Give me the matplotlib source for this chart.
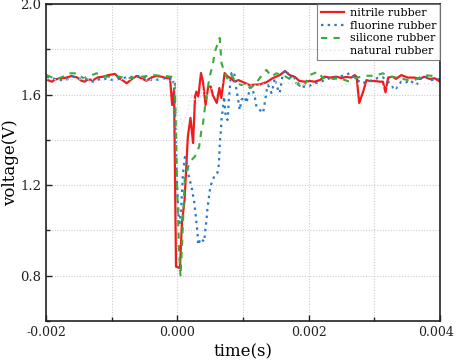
import matplotlib
matplotlib.use("Agg")
import matplotlib.pyplot as plt
from matplotlib.ticker import MultipleLocator
from matplotlib.transforms import ScaledTranslation

plt.rcParams['font.family'] = ['DejaVu Serif']

# ---- data (time in s, voltage in V) ----
nitrile_t = [-0.00200, -0.00191, -0.00186, -0.00176, -0.00169, -0.00161, -0.00153, -0.00146,
             -0.00141, -0.00136, -0.00128, -0.00121, -0.00113, -0.00105, -0.00095, -0.00088,
             -0.00077, -0.00070, -0.00062, -0.00055, -0.00047, -0.00039, -0.00032, -0.00024,
             -0.00016, -0.00011, -0.00008, -0.00005, -0.00002, 0.00004, 0.00007, 0.00011,
             0.00016, 0.00020, 0.00024, 0.00027, 0.00029, 0.00032, 0.00036, 0.00039,
             0.00043, 0.00047, 0.00051, 0.00054, 0.00060, 0.00064, 0.00067, 0.00072,
             0.00077, 0.00082, 0.00087, 0.00093, 0.00110, 0.00126, 0.00136, 0.00145,
             0.00156, 0.00164, 0.00171, 0.00179, 0.00186, 0.00194, 0.00202, 0.00209,
             0.00217, 0.00224, 0.00232, 0.00242, 0.00250, 0.00257, 0.00265, 0.00270,
             0.00273, 0.00277, 0.00283, 0.00288, 0.00293, 0.00300, 0.00308, 0.00313,
             0.00317, 0.00321, 0.00328, 0.00333, 0.00341, 0.00351, 0.00361, 0.00369,
             0.00376, 0.00384, 0.00392, 0.00400]
nitrile_v = [1.667, 1.657, 1.667, 1.672, 1.675, 1.682, 1.676, 1.661,
             1.657, 1.667, 1.664, 1.676, 1.679, 1.686, 1.691, 1.672,
             1.650, 1.667, 1.682, 1.672, 1.661, 1.676, 1.682, 1.679,
             1.672, 1.672, 1.554, 1.620, 0.840, 0.834, 1.033, 1.134,
             1.414, 1.497, 1.386, 1.591, 1.613, 1.591, 1.695, 1.657,
             1.554, 1.635, 1.635, 1.598, 1.563, 1.629, 1.585, 1.695,
             1.679, 1.672, 1.657, 1.664, 1.642, 1.645, 1.655, 1.672,
             1.686, 1.704, 1.686, 1.678, 1.660, 1.657, 1.660, 1.657,
             1.664, 1.679, 1.675, 1.679, 1.673, 1.678, 1.675, 1.686,
             1.679, 1.563, 1.613, 1.664, 1.660, 1.660, 1.657, 1.657,
             1.610, 1.675, 1.679, 1.669, 1.686, 1.675, 1.675, 1.669,
             1.679, 1.669, 1.672, 1.657]

fluorine_t = [-0.00199, -0.00190, -0.00180, -0.00170, -0.00159, -0.00149, -0.00138, -0.00128,
              -0.00115, -0.00097, -0.00077, -0.00057, -0.00039, -0.00024, -0.00014, -0.000064,
              -0.000038, -0.000023, -0.000003, 0.000018, 0.000038, 0.000061, 0.000084, 0.000114,
              0.000140, 0.000164, 0.000216, 0.000256, 0.000277, 0.000292, 0.000307, 0.000316,
              0.000357, 0.000408, 0.000429, 0.000444, 0.000459, 0.000479, 0.000499, 0.000520,
              0.000570, 0.000611, 0.000631, 0.000642, 0.000646, 0.000662, 0.000672, 0.000697,
              0.000712, 0.000738, 0.000764, 0.000773, 0.000783, 0.000798, 0.000806, 0.000824,
              0.000864, 0.000885, 0.000951, 0.000976, 0.001027, 0.001053, 0.001078, 0.001129,
              0.001179, 0.001205, 0.001255, 0.001306, 0.001331, 0.001357, 0.001382, 0.001433,
              0.001458, 0.001483, 0.001534, 0.001559, 0.001609, 0.001661, 0.001711, 0.001762,
              0.001813, 0.001889, 0.001939, 0.002015, 0.002091, 0.002167, 0.002243, 0.002319,
              0.002395, 0.002471, 0.002547, 0.002624, 0.002700, 0.002802, 0.002902, 0.002978,
              0.003049, 0.003131, 0.003258, 0.003297, 0.003334, 0.003410, 0.003486, 0.003536,
              0.003638, 0.003714, 0.003764, 0.003866, 0.003942, 0.004000]
fluorine_v = [1.679, 1.672, 1.664, 1.664, 1.679, 1.670, 1.667, 1.657,
              1.672, 1.664, 1.676, 1.682, 1.664, 1.667, 1.676, 1.672,
              1.591, 1.370, 1.193, 1.068, 1.033, 1.112, 1.245, 1.324,
              1.311, 1.252, 1.193, 1.127, 1.076, 1.031, 0.994, 0.936,
              0.965, 0.950, 1.009, 1.046, 1.098, 1.142, 1.186, 1.208,
              1.245, 1.255, 1.289, 1.348, 1.385, 1.436, 1.488, 1.546,
              1.591, 1.497, 1.488, 1.517, 1.576, 1.620, 1.657, 1.694,
              1.701, 1.650, 1.532, 1.576, 1.591, 1.563, 1.598, 1.635,
              1.591, 1.546, 1.532, 1.519, 1.563, 1.613, 1.642, 1.607,
              1.635, 1.672, 1.620, 1.607, 1.695, 1.709, 1.672, 1.686,
              1.657, 1.635, 1.635, 1.639, 1.650, 1.654, 1.664, 1.672,
              1.675, 1.679, 1.686, 1.694, 1.675, 1.650, 1.657, 1.664,
              1.673, 1.676, 1.645, 1.620, 1.628, 1.657, 1.654, 1.664,
              1.642, 1.672, 1.683, 1.664, 1.669, 1.668]

silicone_t = [-0.00199, -0.00184, -0.00163, -0.00153, -0.00143, -0.00123, -0.00108, -0.00088,
              -0.00077, -0.00062, -0.00036, -0.00021, -0.00009, -0.000038, -0.000003, 0.000027,
              0.000049, 0.000068, 0.000088, 0.000114, 0.000164, 0.000216, 0.000266, 0.000292,
              0.000332, 0.000368, 0.000392, 0.000444, 0.000494, 0.000544, 0.000570, 0.000620,
              0.000646, 0.000672, 0.000722, 0.000773, 0.000824, 0.000900, 0.000976, 0.001053,
              0.001103, 0.001179, 0.001255, 0.001357, 0.001433, 0.001509, 0.001635, 0.001737,
              0.001813, 0.001913, 0.002015, 0.002141, 0.002218, 0.002294, 0.002370, 0.002471,
              0.002624, 0.002700, 0.002802, 0.002877, 0.003004, 0.003131, 0.003232, 0.003358,
              0.003510, 0.003612, 0.003764, 0.003866, 0.003966]
silicone_v = [1.686, 1.667, 1.694, 1.694, 1.672, 1.694, 1.679, 1.679,
              1.672, 1.676, 1.686, 1.682, 1.679, 1.657, 1.193, 0.900,
              0.796, 0.914, 1.046, 1.237, 1.281, 1.311, 1.326, 1.342,
              1.370, 1.444, 1.474, 1.600, 1.680, 1.739, 1.789, 1.828,
              1.850, 1.739, 1.695, 1.664, 1.686, 1.651, 1.642, 1.651,
              1.629, 1.642, 1.673, 1.709, 1.679, 1.694, 1.682, 1.664,
              1.650, 1.628, 1.686, 1.701, 1.672, 1.679, 1.669, 1.672,
              1.657, 1.672, 1.679, 1.683, 1.683, 1.694, 1.679, 1.675,
              1.664, 1.664, 1.686, 1.683, 1.679]

natural_t = [-0.00200, -0.00170, -0.00140, -0.00110, -0.00080, -0.00050, -0.00020, -0.00005,
             0.00002, 0.00008, 0.00015, 0.00022, 0.00030, 0.00038, 0.00046, 0.00055,
             0.00070, 0.00090, 0.00120, 0.00150, 0.00180, 0.00210, 0.00240, 0.00270,
             0.00300, 0.00330, 0.00360, 0.00400]
natural_v = [1.668, 1.664, 1.670, 1.662, 1.668, 1.664, 1.668, 1.660,
             1.520, 1.460, 1.520, 1.600, 1.560, 1.620, 1.590, 1.640,
             1.655, 1.650, 1.640, 1.655, 1.648, 1.640, 1.632, 1.650,
             1.640, 1.630, 1.645, 1.650]

labels = ['nitrile rubber', 'fluorine rubber', 'silicone rubber', 'natural rubber']
x_ticks = [-0.002, 0.0, 0.002, 0.004]
x_ticklabels = ['-0.002', '0.000', '0.002', '0.004']
y_ticks = [0.8, 1.2, 1.6, 2.0]
y_ticklabels = ['0.8', '1.2', '1.6', '2.0']

fig = plt.figure(figsize=(4.57, 3.63), dpi=100)
ax = fig.add_axes([46/457, 42/363, 394/457, 317/363])

ax.plot(nitrile_t, nitrile_v, color='#ee1c1c', lw=1.6, label=labels[0])
ax.plot(fluorine_t, fluorine_v, color='#2b7bc6', lw=1.6, linestyle=(0, (1.1, 1.9)), label=labels[1])
ax.plot(silicone_t, silicone_v, color='#3aab3a', lw=1.5, linestyle=(0, (3, 3)), label=labels[2])
ax.plot(natural_t, natural_v, color='#f3dbe8', lw=1.0, linestyle=(0, (1, 2)), label=labels[3])

ax.set_xlim(-0.002, 0.004)
ax.set_ylim(0.6, 2.0)
ax.set_xticks(x_ticks)
ax.set_xticklabels(x_ticklabels)
ax.set_yticks(y_ticks)
ax.set_yticklabels(y_ticklabels)
ax.xaxis.set_minor_locator(MultipleLocator(0.001))
ax.yaxis.set_minor_locator(MultipleLocator(0.2))

ax.grid(True, which='both', color='#cccccc', linestyle=(0, (1, 1.5)), lw=0.8)
ax.tick_params(which='both', direction='in', top=False, right=False, colors='#222222')
ax.tick_params(axis='x', labelsize=9)
ax.tick_params(axis='y', labelsize=9.5)
ax.tick_params(which='major', length=4, width=1)
ax.tick_params(which='minor', length=3, width=1)
for s in ax.spines.values():
    s.set_linewidth(1.2)
    s.set_color('#222222')

# keep the right-most tick label inside the canvas
last = ax.get_xticklabels()[-1]
last.set_transform(last.get_transform() + ScaledTranslation(-4/100, 0, fig.dpi_scale_trans))

ax.set_xlabel('time(s)', fontsize=12, labelpad=3)
ax.set_ylabel('voltage(V)', fontsize=12, labelpad=1)

leg = ax.legend(loc='upper right', fontsize=8, frameon=True, fancybox=False,
                borderaxespad=0.0, handlelength=2.1, handletextpad=0.5,
                labelspacing=0.25, borderpad=0.35)
leg.get_frame().set_edgecolor('#666666')
leg.get_frame().set_linewidth(0.8)

fig.savefig('out.png', dpi=100)
